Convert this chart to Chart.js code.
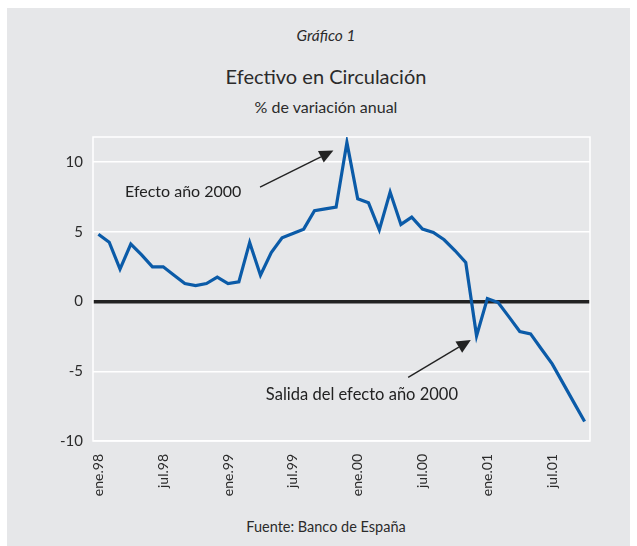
<!DOCTYPE html>
<html lang="es">
<head>
<meta charset="utf-8">
<title>Efectivo en Circulación</title>
<script src="https://cdn.jsdelivr.net/npm/chart.js@4.4.1/dist/chart.umd.min.js"></script>
<style>
    body { margin: 0; background: #fff; font-family: Lato, sans-serif; color: #2b2b2b; }
    #panel { position: absolute; left: 7px; top: 8px; width: 623px; height: 538px; background: #e6e7e9; }
    .texto { position: absolute; left: 326px; transform: translateX(-50%); white-space: nowrap; line-height: 1; }
    #grafico-num { top: 28px; font-size: 15.5px; font-style: italic; }
    #titulo { top: 66px; font-size: 20px; }
    #subtitulo { top: 99px; font-size: 16px; }
    #fuente { top: 520px; font-size: 14.5px; }
    #grafico { position: absolute; left: 0; top: 0; }
</style>
</head>
<body>
<div id="panel"></div>
<div class="texto" id="grafico-num">Gráfico 1</div>
<div class="texto" id="titulo">Efectivo en Circulación</div>
<div class="texto" id="subtitulo">% de variación anual</div>
<div class="texto" id="fuente">Fuente: Banco de España</div>
<canvas id="grafico" width="637" height="546"></canvas>

<script>
// --- DATOS ---
const meses = [
    'ene.98', 'feb.98', 'mar.98', 'abr.98', 'may.98', 'jun.98', 'jul.98', 'ago.98', 'sep.98', 'oct.98', 'nov.98', 'dic.98',
    'ene.99', 'feb.99', 'mar.99', 'abr.99', 'may.99', 'jun.99', 'jul.99', 'ago.99', 'sep.99', 'oct.99', 'nov.99', 'dic.99',
    'ene.00', 'feb.00', 'mar.00', 'abr.00', 'may.00', 'jun.00', 'jul.00', 'ago.00', 'sep.00', 'oct.00', 'nov.00', 'dic.00',
    'ene.01', 'feb.01', 'mar.01', 'abr.01', 'may.01', 'jun.01', 'jul.01', 'ago.01', 'sep.01', 'oct.01'
];

// % de variación anual del efectivo en circulación
const variacion = [
    4.83, 4.26, 2.32, 4.12, 3.35, 2.49, 2.49, 1.89, 1.29, 1.15, 1.29, 1.75,
    1.29, 1.41, 4.24, 1.89, 3.52, 4.57, 4.88, 5.19, 6.51, 6.65, 6.77, 11.41,
    7.37, 7.08, 5.14, 7.85, 5.53, 6.05, 5.20, 4.95, 4.43, 3.66, 2.80, -2.46,
    0.22, -0.07, -1.10, -2.15, -2.32, -3.40, -4.47, -5.85, -7.23, -8.60
];

const mesesConEtiqueta = ['ene', 'jul'];
const ticksY = [-10, -5, 0, 5, 10];
const notas = ['Efecto año 2000', 'Salida del efecto año 2000'];

// --- ANOTACIONES (en coordenadas del gráfico: índice de mes, valor) ---
const anotaciones = {
    id: 'anotaciones',
    beforeDatasetsDraw(chart) {
        const { ctx, chartArea: a } = chart;
        ctx.save();
        ctx.strokeStyle = '#fff';
        ctx.lineWidth = 1.5;
        ctx.strokeRect(a.left, a.top, a.right - a.left, a.bottom - a.top);
        ctx.restore();
    },
    afterDatasetsDraw(chart) {
        const { ctx, scales: { x, y } } = chart;
        const px = i => x.getPixelForValue(i);
        const py = v => y.getPixelForValue(v);

        const flecha = (x0, y0, x1, y1) => {
            const ang = Math.atan2(y1 - y0, x1 - x0);
            const largo = 14, ancho = 6.5;
            const bx = x1 - largo * Math.cos(ang), by = y1 - largo * Math.sin(ang);
            ctx.beginPath();
            ctx.moveTo(x0, y0);
            ctx.lineTo(bx, by);
            ctx.stroke();
            ctx.beginPath();
            ctx.moveTo(x1, y1);
            ctx.lineTo(bx + ancho * Math.sin(ang), by - ancho * Math.cos(ang));
            ctx.lineTo(bx - ancho * Math.sin(ang), by + ancho * Math.cos(ang));
            ctx.closePath();
            ctx.fill();
        };

        ctx.save();
        ctx.fillStyle = '#222';
        ctx.strokeStyle = '#222';
        ctx.lineWidth = 1.4;
        ctx.font = '16px Lato';
        ctx.textAlign = 'left';
        ctx.textBaseline = 'middle';
        ctx.fillText(notas[0], px(2.46), py(7.9));
        ctx.font = '16.5px Lato';
        ctx.fillText(notas[1], px(15.5), py(-6.69));
        flecha(px(14.96), py(8.21), px(21.75), py(10.83));
        flecha(px(28.67), py(-5.44), px(34.47), py(-2.75));
        ctx.restore();
    }
};

// --- GRÁFICO ---
const ctx = document.getElementById('grafico').getContext('2d');
new Chart(ctx, {
    type: 'line',
    data: {
        labels: meses,
        datasets: [{
            data: variacion,
            borderColor: '#0b5ba8',
            borderWidth: 3.2,
            pointRadius: 0,
            tension: 0,
            fill: false
        }]
    },
    options: {
        responsive: false,
        animation: false,
        layout: { padding: { top: 137, right: 47, left: 0, bottom: 0 } },
        plugins: { legend: { display: false }, tooltip: { enabled: false } },
        scales: {
            x: {
                offset: true,
                grid: { display: false },
                border: { display: false },
                ticks: {
                    autoSkip: false,
                    minRotation: 90,
                    maxRotation: 90,
                    padding: 5,
                    color: '#2b2b2b',
                    font: { family: 'Lato', size: 14 },
                    callback: function (val, i) {
                        const etiqueta = this.getLabelForValue(val);
                        return mesesConEtiqueta.includes(etiqueta.split('.')[0]) ? etiqueta : '';
                    }
                },
                afterFit: s => { s.height = 105; }
            },
            y: {
                min: -10,
                max: 11.8,
                afterBuildTicks: s => { s.ticks = ticksY.map(v => ({ value: v })); },
                grid: {
                    drawTicks: false,
                    color: c => c.tick && c.tick.value === 0 ? '#222' : '#fff',
                    lineWidth: c => c.tick && c.tick.value === 0 ? 3.5 : 1.5
                },
                border: { display: false },
                ticks: {
                    padding: 10,
                    color: '#2b2b2b',
                    font: { family: 'Lato', size: 15 },
                    callback: v => String(v)
                },
                afterFit: s => { s.width = 93; }
            }
        }
    },
    plugins: [anotaciones]
});
</script>
</body>
</html>
